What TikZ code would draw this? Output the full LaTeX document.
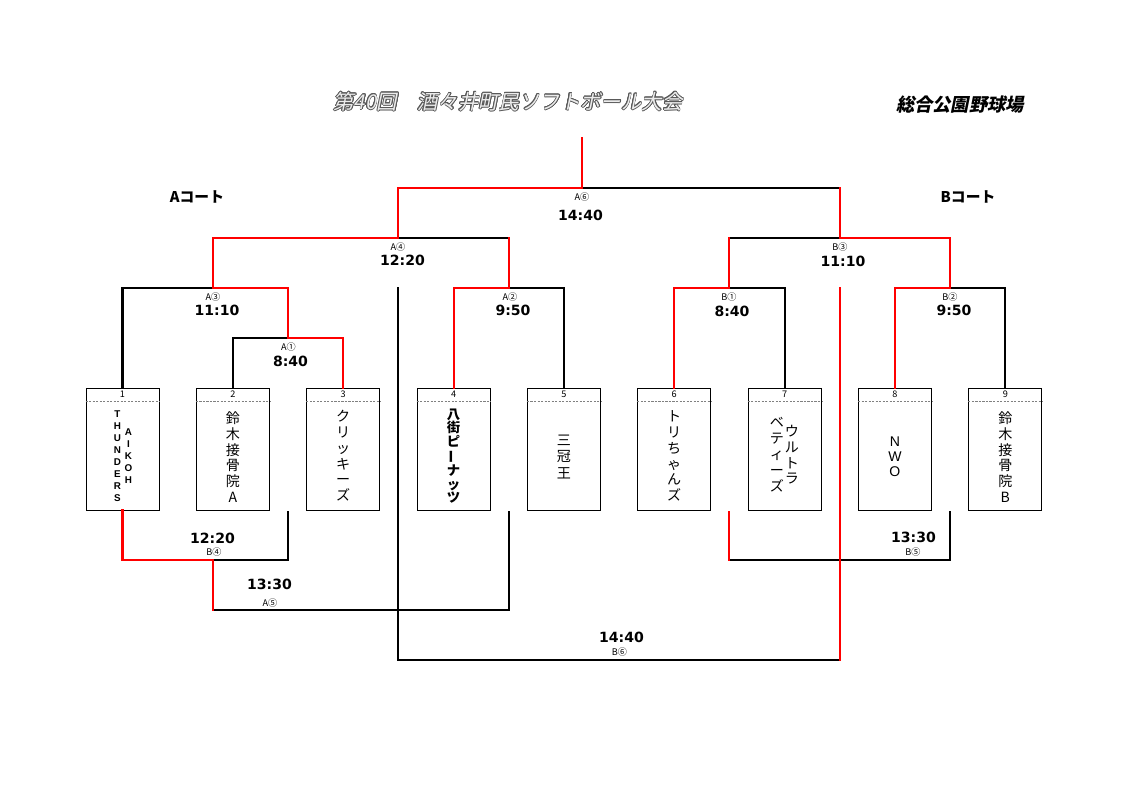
\documentclass[tikz,border=0pt]{standalone}
\usepackage{fontspec}
\usepackage{contour}
\setmainfont{Liberation Sans}
\newfontfamily\jpfont{Noto Sans CJK JP}
\newfontfamily\jpslant[FakeSlant=0.2]{Noto Sans CJK JP}
\newfontfamily\timefont{DejaVu Sans}
\contourlength{0.45pt}
\usetikzlibrary{calc}

\begin{document}
\begin{tikzpicture}[x=0.025cm,y=-0.025cm,
        win/.style={draw=red,line width=1.5pt,line cap=rect},
        lose/.style={draw=black,line width=1.5pt,line cap=rect},
        team/.style={draw,line width=0.6pt,minimum width=1.825cm,minimum height=3.05cm,inner sep=0pt},
        sep/.style={draw=gray,line width=0.6pt,dash pattern=on 1.5pt off 1pt},
        num/.style={font=\jpfont\fontsize{6.5}{7}\selectfont,inner sep=0pt},
        game/.style={font=\jpfont\fontsize{6.5}{7}\selectfont,inner sep=0pt},
        time/.style={font=\timefont\bfseries\fontsize{10}{12}\selectfont,inner sep=0pt},
        tname/.style={font=\jpfont\fontsize{10}{11.2}\selectfont,align=center,inner sep=0pt},
        latin/.style={font=\bfseries\fontsize{7}{8.6}\selectfont,align=center,inner sep=0pt},
        court/.style={font=\jpfont\bfseries\fontsize{10.5}{12}\selectfont},
        title/.style={font=\jpslant\fontsize{14.5}{16}\selectfont,text=gray!15},
        place/.style={font=\jpslant\bfseries\fontsize{13}{14}\selectfont}]
        \path[fill=white] (0,0) rectangle (1123,794);

        \node[title] (title) at (508,102) {\contour{gray!70!black}{第40回　酒々井町民ソフトボール大会}};
        \node[place] (place) at (960,105) {総合公園野球場};
        \node[court] (ca) at (197,197) {Aコート};
        \node[court] (cb) at (968,197) {Bコート};

        \node[team] (t1) at (122.5,449) {};
        \node[team] (t2) at (232.85,449) {};
        \node[team] (t3) at (343.2,449) {};
        \node[team] (t4) at (453.55,449) {};
        \node[team] (t5) at (563.9,449) {};
        \node[team] (t6) at (674.25,449) {};
        \node[team] (t7) at (784.6,449) {};
        \node[team] (t8) at (894.95,449) {};
        \node[team] (t9) at (1005.3,449) {};

        \draw[sep] ($(t1.north west)+(0,13.5)$) -- ($(t1.north east)+(0,13.5)$);
        \draw[sep] ($(t2.north west)+(0,13.5)$) -- ($(t2.north east)+(0,13.5)$);
        \draw[sep] ($(t3.north west)+(0,13.5)$) -- ($(t3.north east)+(0,13.5)$);
        \draw[sep] ($(t4.north west)+(0,13.5)$) -- ($(t4.north east)+(0,13.5)$);
        \draw[sep] ($(t5.north west)+(0,13.5)$) -- ($(t5.north east)+(0,13.5)$);
        \draw[sep] ($(t6.north west)+(0,13.5)$) -- ($(t6.north east)+(0,13.5)$);
        \draw[sep] ($(t7.north west)+(0,13.5)$) -- ($(t7.north east)+(0,13.5)$);
        \draw[sep] ($(t8.north west)+(0,13.5)$) -- ($(t8.north east)+(0,13.5)$);
        \draw[sep] ($(t9.north west)+(0,13.5)$) -- ($(t9.north east)+(0,13.5)$);

        \node[num] (n1) at ($(t1.north)+(0,7)$) {1};
        \node[num] (n2) at ($(t2.north)+(0,7)$) {2};
        \node[num] (n3) at ($(t3.north)+(0,7)$) {3};
        \node[num] (n4) at ($(t4.north)+(0,7)$) {4};
        \node[num] (n5) at ($(t5.north)+(0,7)$) {5};
        \node[num] (n6) at ($(t6.north)+(0,7)$) {6};
        \node[num] (n7) at ($(t7.north)+(0,7)$) {7};
        \node[num] (n8) at ($(t8.north)+(0,7)$) {8};
        \node[num] (n9) at ($(t9.north)+(0,7)$) {9};

        \node[latin] (s1a) at (117.5,456) {T\\H\\U\\N\\D\\E\\R\\S};
        \node[latin] (s1b) at (128.5,456) {A\\I\\K\\O\\H};
        \node[tname] (s2) at (232.85,457) {鈴\\木\\接\\骨\\院\\A};
        \node[tname] (s3) at (343.2,456) {ク\\リ\\ッ\\キ\\ー\\ズ};
        \node[tname,font=\jpfont\bfseries\fontsize{9.5}{9.7}\selectfont] (s4) at (453.55,456) {八\\街\\ピ\\\rotatebox[origin=c]{90}{ー}\\ナ\\ッ\\ツ};
        \node[tname,font=\jpfont\fontsize{10}{11.4}\selectfont] (s5) at (563.9,457) {三\\冠\\王};
        \node[tname] (s6) at (674.25,456) {ト\\リ\\ち\\ゃ\\ん\\ズ};
        \node[tname] (s7a) at (792,455) {ウ\\ル\\ト\\ラ};
        \node[tname,font=\jpfont\fontsize{10}{11.4}\selectfont] (s7b) at (777,455) {ベ\\テ\\ィ\\ー\\ズ};
        \node[tname,font=\fontsize{10}{10.7}\selectfont] (s8) at (894.95,457) {N\\W\\O};
        \node[tname] (s9) at (1005.3,457) {鈴\\木\\接\\骨\\院\\B};

        \coordinate (m1) at (288,338);
        \coordinate (m3) at (213,288);
        \coordinate (m2) at (509,288);
        \coordinate (m4) at (398,238);
        \coordinate (m6) at (582,188);
        \coordinate (top) at (582,138);
        \coordinate (b1) at (729,288);
        \coordinate (b2) at (950,288);
        \coordinate (b3) at (840,238);
        \coordinate (f1) at (398,288);
        \coordinate (f2) at (840,288);
        \coordinate (k6) at (840,660);
        \coordinate (p4) at (213,560);
        \coordinate (q4) at (288,512);
        \coordinate (p5) at (213,610);
        \coordinate (q5) at (509,512);
        \coordinate (q6) at (729,512);
        \coordinate (p6) at (729,560);
        \coordinate (q7) at (950,512);

        \draw[lose] (t2.north) |- (m1);
        \draw[win] (m1) -| (t3.north);
        \draw[lose] (t1.north) |- (m3);
        \draw[win] (m3) -| (m1);
        \draw[win] (t4.north) |- (m2);
        \draw[lose] (m2) -| (t5.north);
        \draw[lose] (m4) -- (m4 -| m2);
        \draw[win] (m4 -| m2) -- (m2);
        \draw[win] (m3) |- (m4);
        \draw[lose] (m6) -- (m6 -| b3);
        \draw[win] (m6 -| b3) -- (b3);
        \draw[win] (m4) |- (m6);
        \draw[win] (m6) -- (top);
        \draw[win] (t6.north) |- (b1);
        \draw[lose] (b1) -| (t7.north);
        \draw[win] (t8.north) |- (b2);
        \draw[lose] (b2) -| (t9.north);
        \draw[lose] (b1 |- b3) -- (b3);
        \draw[win] (b1) -- (b1 |- b3);
        \draw[win] (b3) -| (b2);

        \draw[lose] (p4) -| (q4);
        \draw[win] (t1.south) |- (p4);
        \draw[lose] (p5) -| (q5);
        \draw[win] (p4) -- (p5);
        \draw[lose] (p6) -| (q7);
        \draw[win] (q6) -- (p6);
        \draw[lose] (f1) |- (k6);
        \draw[win] (f2) -- (k6);

        \node[game] (gA1) at (288.5,347) {A①};
        \node[time] (tA1) at (290.5,361) {8:40};
        \node[game] (gA3) at (213,297) {A③};
        \node[time] (tA3) at (217,310) {11:10};
        \node[game] (gA2) at (510,297) {A②};
        \node[time] (tA2) at (513,310) {9:50};
        \node[game] (gA4) at (398,247) {A④};
        \node[time] (tA4) at (402.5,260.5) {12:20};
        \node[game] (gA6) at (582,197) {A⑥};
        \node[time] (tA6) at (580.5,215) {14:40};
        \node[game] (gB3) at (840,247) {B③};
        \node[time] (tB3) at (843,261) {11:10};
        \node[game] (gB1) at (729,297) {B①};
        \node[time] (tB1) at (732,311.5) {8:40};
        \node[game] (gB2) at (950,297) {B②};
        \node[time] (tB2) at (954,310.5) {9:50};
        \node[time] (tB4) at (212.5,538) {12:20};
        \node[game] (gB4) at (214,552) {B④};
        \node[time] (tA5) at (269.5,584) {13:30};
        \node[game] (gA5) at (270,603) {A⑤};
        \node[time] (tB5) at (913.5,537) {13:30};
        \node[game] (gB5) at (913,552.5) {B⑤};
        \node[time] (tB6) at (621.5,637) {14:40};
        \node[game] (gB6) at (619.5,652.5) {B⑥};
    \end{tikzpicture}
\end{document}
